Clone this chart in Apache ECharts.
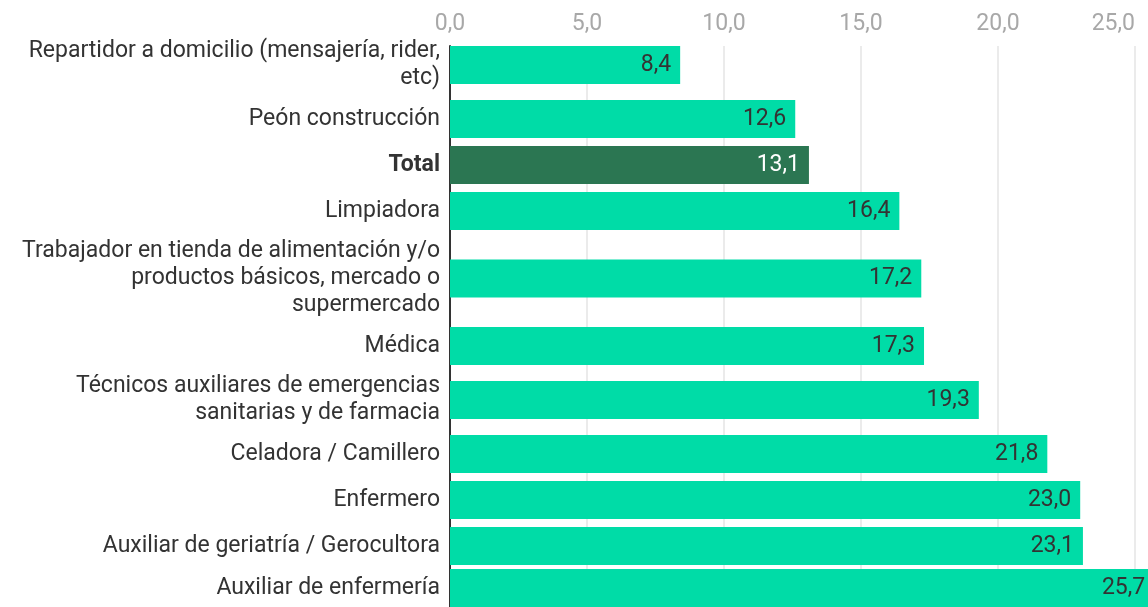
<!DOCTYPE html>
<html>
<head>
<meta charset="utf-8">
<script src="https://cdn.jsdelivr.net/npm/echarts@6/dist/echarts.min.js"></script>
<style>
  html, body { margin: 0; padding: 0; background: #fff; }
  #chart { width: 1148px; height: 607px; }
</style>
</head>
<body>
<div id="chart"></div>
<script>
const categories = [
    'Repartidor a domicilio (mensajería, rider,\netc)',
    'Peón construcción',
    'Total',
    'Limpiadora',
    'Trabajador en tienda de alimentación y/o\nproductos básicos, mercado o\nsupermercado',
    'Médica',
    'Técnicos auxiliares de emergencias\nsanitarias y de farmacia',
    'Celadora / Camillero',
    'Enfermero',
    'Auxiliar de geriatría / Gerocultora',
    'Auxiliar de enfermería'
];
const values = [8.4, 12.6, 13.1, 16.4, 17.2, 17.3, 19.3, 21.8, 23.0, 23.1, 25.7];
const highlight = 'Total';
const xMin = 0, xMax = 25, xStep = 5;

const fmt = v => v.toFixed(1).replace('.', ',');
const font = 'Roboto';
const gridLeft = 450, gridRight = 13;

const grids = [{ left: gridLeft, right: gridRight, top: 46, height: 640 }];
const xAxes = [{
    gridIndex: 0, type: 'value', position: 'top',
    min: xMin, max: xMax, interval: xStep,
    axisLine: { show: false }, axisTick: { show: false },
    axisLabel: {
        margin: 10, color: '#a8a8a8', fontSize: 23, fontFamily: font,
        alignMaxLabel: 'right',
        formatter: v => fmt(v)
    },
    splitLine: { lineStyle: { color: '#e4e4e4', width: 1.5 } }
}];
const yAxes = [{
    gridIndex: 0, type: 'category', data: [''],
    axisLine: { lineStyle: { color: '#333', width: 2 } },
    axisTick: { show: false }, axisLabel: { show: false }
}];
const series = [];

// one grid per row, so rows with wrapped labels get more height
let rowTop = 34;
categories.forEach((name, i) => {
    const lines = name.split('\n').length;
    const h = lines === 1 ? 46 : lines * 27 + 8;
    const idx = i + 1;
    const isTotal = name === highlight;
    grids.push({ left: gridLeft, right: gridRight, top: rowTop, height: h });
    rowTop += h;
    xAxes.push({ gridIndex: idx, type: 'value', min: xMin, max: xMax, show: false });
    yAxes.push({
        gridIndex: idx, type: 'category', data: [name],
        axisLine: { show: false }, axisTick: { show: false },
        axisLabel: {
            margin: 10, color: '#333', fontSize: 23, lineHeight: 27,
            fontFamily: font, fontWeight: isTotal ? 'bold' : 'normal'
        }
    });
    series.push({
        type: 'bar', xAxisIndex: idx, yAxisIndex: idx,
        data: [values[i]], barWidth: 38, clip: false,
        itemStyle: { color: isTotal ? '#2b7652' : '#00dca7' },
        label: {
            show: true, position: 'insideRight', distance: 9,
            fontSize: 23, fontFamily: font,
            color: isTotal ? '#fff' : '#333',
            formatter: p => fmt(p.value)
        }
    });
});

const myChart = echarts.init(document.getElementById('chart'));
myChart.setOption({
    animation: false,
    grid: grids,
    xAxis: xAxes,
    yAxis: yAxes,
    series: series
});
window.addEventListener('resize', () => myChart.resize());
</script>
</body>
</html>
